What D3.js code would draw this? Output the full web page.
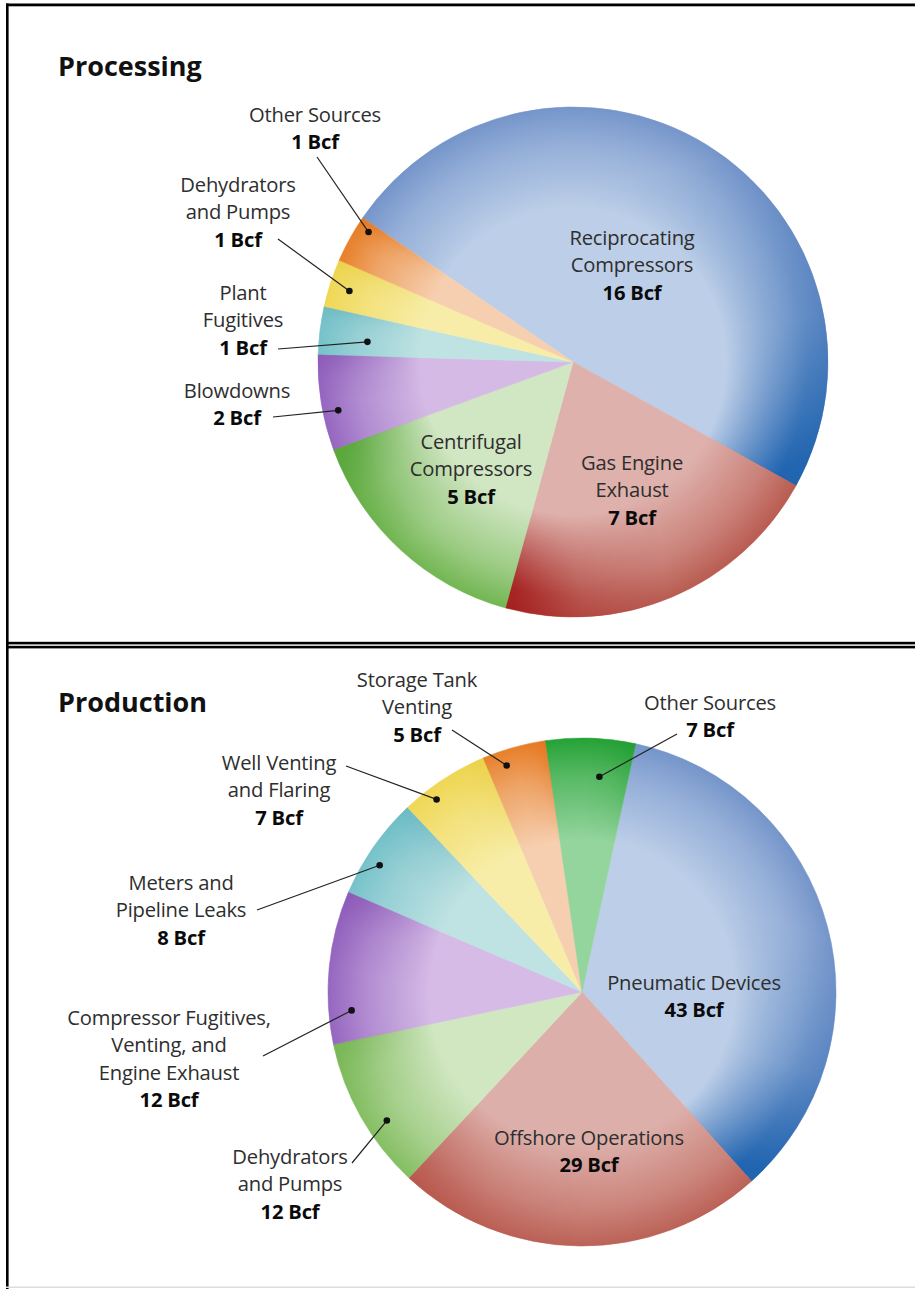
<!DOCTYPE html>
<html>
<head>
<meta charset="utf-8">
<script src="https://cdn.jsdelivr.net/npm/d3@7"></script>
<style>
  html, body { margin: 0; padding: 0; background: #fff; }
  svg { display: block; }
  text { font-family: "Open Sans", "DejaVu Sans", sans-serif; }
</style>
</head>
<body>
<svg id="chart" width="915" height="1289"></svg>
<script>
// ---- Data: methane emissions by source (Bcf) ----
const processingCategories = ["Reciprocating Compressors", "Gas Engine Exhaust", "Centrifugal Compressors",
  "Blowdowns", "Plant Fugitives", "Dehydrators and Pumps", "Other Sources"];
const processingValues = [16, 7, 5, 2, 1, 1, 1];
const processingLabelLines = [["Reciprocating", "Compressors"], ["Gas Engine", "Exhaust"],
  ["Centrifugal", "Compressors"], ["Blowdowns"], ["Plant", "Fugitives"], ["Dehydrators", "and Pumps"],
  ["Other Sources"]];

const productionCategories = ["Pneumatic Devices", "Offshore Operations", "Dehydrators and Pumps",
  "Compressor Fugitives, Venting, and Engine Exhaust", "Meters and Pipeline Leaks",
  "Well Venting and Flaring", "Storage Tank Venting", "Other Sources"];
const productionValues = [43, 29, 12, 12, 8, 7, 5, 7];
const productionLabelLines = [["Pneumatic Devices"], ["Offshore Operations"], ["Dehydrators", "and Pumps"],
  ["Compressor Fugitives,", "Venting, and", "Engine Exhaust"], ["Meters and", "Pipeline Leaks"],
  ["Well Venting", "and Flaring"], ["Storage Tank", "Venting"], ["Other Sources"]];

const unit = "Bcf";

// ---- Slice shading: interior tint, rim tone, dark accent toward the slice end ----
const blue   = { light: "#bdcfe8", rim: "#7595ca", dark: "#1c62ae", end: 0.95 };
const red    = { light: "#dfb1ac", rim: "#b95c51", dark: "#a31c1c", end: 0.9 };
const processingPalette = [
  blue, red,
  { light: "#d1e6c3", rim: "#72b652", dark: "#4d9f2f", end: 0.7 },
  { light: "#d4bae5", rim: "#9566c0", dark: "#8550b0", end: 0.5 },
  { light: "#bfe2e2", rim: "#76c2ca", dark: "#5fb0bb", end: 0.4 },
  { light: "#f7eda8", rim: "#efd755", dark: "#e7cb3c", end: 0.4 },
  { light: "#f6cfb0", rim: "#e7802a", dark: "#e06a10", end: 0.4 }
];
const productionPalette = [
  blue,
  { light: "#ddafaa", rim: "#bc6257", dark: "#b2463c", end: 0.35 },
  { light: "#d1e7c2", rim: "#84be62", dark: "#6cae48", end: 0.5 },
  { light: "#d5bbe6", rim: "#9566c0", dark: "#8550b0", end: 0.5 },
  { light: "#bfe2e2", rim: "#76c2ca", dark: "#5fb0bb", end: 0.4 },
  { light: "#f7eda8", rim: "#efd755", dark: "#e7cb3c", end: 0.4 },
  { light: "#f6cfb0", rim: "#e7802a", dark: "#e06a10", end: 0.4 },
  { light: "#94d49d", rim: "#25a236", dark: "#1a9a2a", end: 0.3 }
];

// ---- Layout ----
const processingLayout = {
  key: "proc", title: "Processing", titleX: 58, titleY: 76,
  cx: 573, cy: 362, r: 255, startDeg: -55.6,
  labels: [
    { x: 632, y: 245 },
    { x: 632, y: 470 },
    { x: 471, y: 449 },
    { x: 237, y: 398, from: [273, 417], t: 0.39, rf: 0.94 },
    { x: 243, y: 300, from: [278, 349], t: 0.36, rf: 0.81 },
    { x: 238, y: 192, from: [278, 239], t: 0.46, rf: 0.92 },
    { x: 315, y: 121.5, from: [317, 157], t: 0.82, rf: 0.95 }
  ]
};
const productionLayout = {
  key: "prod", title: "Production", titleX: 58, titleY: 712,
  cx: 582, cy: 992, r: 254, startDeg: 12.2,
  labels: [
    { x: 694, y: 990 },
    { x: 589, y: 1145 },
    { x: 290, y: 1164, from: [352, 1163], t: 0.39, rf: 0.92 },
    { x: 169, y: 1025, from: [263, 1056], t: 0.21, rf: 0.91 },
    { x: 181, y: 890, from: [257, 910], t: 0.38, rf: 0.94 },
    { x: 279, y: 770, from: [346, 766], t: 0.31, rf: 0.95 },
    { x: 417, y: 687, from: [452, 730], t: 0.31, rf: 0.94 },
    { x: 710, y: 710, from: [677, 734], t: 0.63, rf: 0.85 }
  ]
};

const LINE_H = 27.3;
const svg = d3.select("#chart");
const defs = svg.append("defs");

// ---- Panel frames ----
const frame = svg.append("g").attr("fill", "#000");
frame.append("rect").attr("x", 6).attr("y", 3.5).attr("width", 909).attr("height", 2.8);
frame.append("rect").attr("x", 6).attr("y", 3.5).attr("width", 2.6).attr("height", 1285.5);
frame.append("rect").attr("x", 6).attr("y", 641.8).attr("width", 909).attr("height", 2.6);
frame.append("rect").attr("x", 6).attr("y", 645.8).attr("width", 909).attr("height", 2.6);
svg.append("rect").attr("x", 6).attr("y", 1286.5).attr("width", 909).attr("height", 1.5).attr("fill", "#dcdcdc");

function drawPie(values, labelLines, palette, L) {
  const rad = Math.PI / 180;
  const start = L.startDeg * rad;
  const pie = d3.pie().sort(null).value(d => d).startAngle(start).endAngle(start + 2 * Math.PI);
  const arcs = pie(values);
  const arc = d3.arc().innerRadius(0).outerRadius(L.r);
  const polar = (a, rr) => [Math.sin(a) * rr, -Math.cos(a) * rr];

  const g = svg.append("g").attr("transform", `translate(${L.cx},${L.cy})`);

  // mask keeping end accents near the rim
  const mg = defs.append("radialGradient").attr("id", `${L.key}-mask-grad`)
    .attr("gradientUnits", "userSpaceOnUse").attr("cx", 0).attr("cy", 0).attr("r", L.r);
  mg.append("stop").attr("offset", 0).attr("stop-color", "#000");
  mg.append("stop").attr("offset", 0.6).attr("stop-color", "#000");
  mg.append("stop").attr("offset", 0.92).attr("stop-color", "#fff");
  mg.append("stop").attr("offset", 1).attr("stop-color", "#fff");
  defs.append("mask").attr("id", `${L.key}-mask`)
    .attr("maskUnits", "userSpaceOnUse")
    .attr("x", -L.r - 2).attr("y", -L.r - 2).attr("width", 2 * L.r + 4).attr("height", 2 * L.r + 4)
    .append("circle").attr("r", L.r + 2).attr("fill", `url(#${L.key}-mask-grad)`);

  arcs.forEach((d, i) => {
    const p = palette[i];
    const rg = defs.append("radialGradient").attr("id", `${L.key}-rg-${i}`)
      .attr("gradientUnits", "userSpaceOnUse").attr("cx", 0).attr("cy", 0).attr("r", L.r);
    rg.append("stop").attr("offset", 0).attr("stop-color", p.light);
    rg.append("stop").attr("offset", 0.6).attr("stop-color", p.light);
    rg.append("stop").attr("offset", 0.85).attr("stop-color", d3.interpolateRgb(p.light, p.rim)(0.55));
    rg.append("stop").attr("offset", 1).attr("stop-color", p.rim);

    const mid = (d.startAngle + d.endAngle) / 2;
    const a = polar(mid, L.r * 0.9), b = polar(d.endAngle, L.r * 0.9);
    const lg = defs.append("linearGradient").attr("id", `${L.key}-lg-${i}`)
      .attr("gradientUnits", "userSpaceOnUse")
      .attr("x1", a[0]).attr("y1", a[1]).attr("x2", b[0]).attr("y2", b[1]);
    lg.append("stop").attr("offset", 0).attr("stop-color", p.dark).attr("stop-opacity", 0);
    lg.append("stop").attr("offset", 0.55).attr("stop-color", p.dark).attr("stop-opacity", p.end * 0.35);
    lg.append("stop").attr("offset", 1).attr("stop-color", p.dark).attr("stop-opacity", p.end);
  });

  g.selectAll("path.slice").data(arcs).join("path")
    .attr("class", "slice")
    .attr("d", arc)
    .attr("fill", (d, i) => `url(#${L.key}-rg-${i})`)
    .attr("stroke", (d, i) => `url(#${L.key}-rg-${i})`)
    .attr("stroke-width", 0.6);

  g.append("g").attr("mask", `url(#${L.key}-mask)`)
    .selectAll("path").data(arcs).join("path")
    .attr("d", arc)
    .attr("fill", (d, i) => `url(#${L.key}-lg-${i})`);

  // title
  svg.append("text").attr("x", L.titleX).attr("y", L.titleY)
    .attr("font-size", 27).attr("font-weight", 700).attr("fill", "#111")
    .text(L.title);

  // labels, leader lines and dots
  arcs.forEach((d, i) => {
    const lay = L.labels[i];
    const lines = labelLines[i].concat([`${d.data} ${unit}`]);
    const t = svg.append("text").attr("text-anchor", "middle").attr("font-size", 20.2);
    lines.forEach((s, k) => {
      const last = k === lines.length - 1;
      t.append("tspan").attr("x", lay.x).attr("y", lay.y + k * LINE_H)
        .attr("font-weight", last ? 700 : 400)
        .attr("fill", last ? "#0a0a0a" : "#2e2e2e")
        .attr("letter-spacing", -0.2)
        .text(s);
    });
    if (lay.from) {
      const ang = d.startAngle + lay.t * (d.endAngle - d.startAngle);
      const pt = polar(ang, lay.rf * L.r);
      const px = L.cx + pt[0], py = L.cy + pt[1];
      svg.append("line").attr("x1", lay.from[0]).attr("y1", lay.from[1])
        .attr("x2", px).attr("y2", py)
        .attr("stroke", "#222").attr("stroke-width", 1.2);
      svg.append("circle").attr("cx", px).attr("cy", py).attr("r", 3.3).attr("fill", "#111");
    }
  });
}

drawPie(processingValues, processingLabelLines, processingPalette, processingLayout);
drawPie(productionValues, productionLabelLines, productionPalette, productionLayout);
</script>
</body>
</html>
